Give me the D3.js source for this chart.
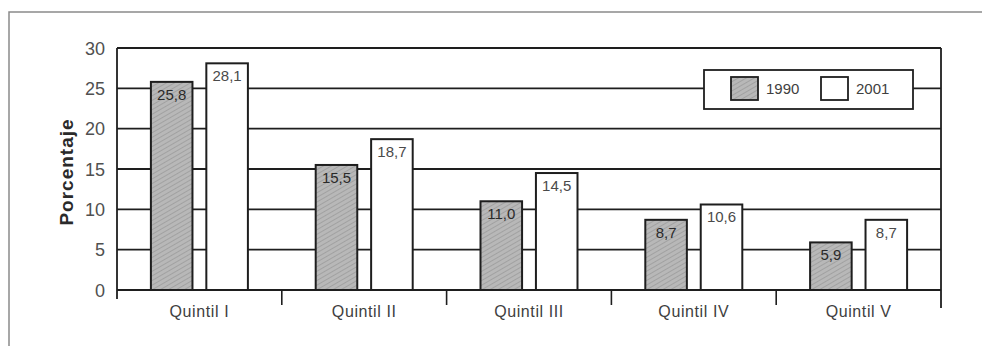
<!DOCTYPE html>
<html>
<head>
<meta charset="utf-8">
<script src="https://cdn.jsdelivr.net/npm/d3@7/dist/d3.min.js"></script>
<style>
  html, body { margin: 0; padding: 0; background: #fff; }
  svg { display: block; font-family: "Liberation Sans", Arial, sans-serif; }
</style>
</head>
<body>
<svg id="chart" width="983" height="346"></svg>
<script>
// Income share by quintile, 1990 vs 2001
const categories = ["Quintil I", "Quintil II", "Quintil III", "Quintil IV", "Quintil V"];
const seriesNames = ["1990", "2001"];
const values1990 = [25.8, 15.5, 11.0, 8.7, 5.9];
const values2001 = [28.1, 18.7, 14.5, 10.6, 8.7];
const yTicks = [0, 5, 10, 15, 20, 25, 30];
const yTitle = "Porcentaje";

const rows = categories.map((c, i) => ({
  cat: c,
  vals: [
    { key: seriesNames[0], v: values1990[i] },
    { key: seriesNames[1], v: values2001[i] }
  ]
}));

const svg = d3.select("#chart");
const plotLeft = 117, plotRight = 941, plotTop = 48, plotBottom = 290;
const ink = "#1e1e1e";

// pattern for the hatched 1990 bars
const defs = svg.append("defs");
const pat = defs.append("pattern")
  .attr("id", "hatch").attr("patternUnits", "userSpaceOnUse")
  .attr("width", 4).attr("height", 4)
  .attr("patternTransform", "rotate(60)");
pat.append("rect").attr("width", 4).attr("height", 4).attr("fill", "#b8b8b8");
pat.append("line").attr("x1", 0).attr("y1", 0).attr("x2", 0).attr("y2", 4)
  .attr("stroke", "#949494").attr("stroke-width", 1.3);

// outer figure frame (top and left edges)
svg.append("path")
  .attr("d", "M9,346 V12 H982")
  .attr("fill", "none").attr("stroke", "#8a8a8a").attr("stroke-width", 1.5);

const y = d3.scaleLinear().domain([0, 30]).range([plotBottom, plotTop]);
const x0 = d3.scaleBand().domain(categories).range([plotLeft, plotRight]).padding(0);
const pairW = 97;
const x1 = d3.scaleBand().domain(seriesNames)
  .range([(x0.bandwidth() - pairW) / 2, (x0.bandwidth() + pairW) / 2])
  .paddingInner(0.25);

// horizontal gridlines
svg.append("g").selectAll("line").data(yTicks.filter(t => t > 0)).join("line")
  .attr("x1", plotLeft).attr("x2", plotRight)
  .attr("y1", d => y(d)).attr("y2", d => y(d))
  .attr("stroke", ink).attr("stroke-width", 1.8);

// y axis
const yAxis = svg.append("g").attr("transform", `translate(${plotLeft},0)`)
  .call(d3.axisLeft(y).tickValues(yTicks).tickSize(0).tickPadding(12));
yAxis.select(".domain").remove();
yAxis.selectAll("text").attr("fill", "#505050").attr("font-size", 18).attr("dy", "0.35em");
svg.append("line").attr("x1", plotLeft).attr("x2", plotLeft).attr("y1", plotTop).attr("y2", plotBottom + 9)
  .attr("stroke", ink).attr("stroke-width", 1.8);
svg.append("line").attr("x1", plotRight).attr("x2", plotRight).attr("y1", plotTop).attr("y2", plotBottom + 18)
  .attr("stroke", ink).attr("stroke-width", 1.8);

// y title
svg.append("text")
  .attr("transform", `translate(73,${(plotTop + plotBottom) / 2 + 3}) rotate(-90)`)
  .attr("text-anchor", "middle")
  .attr("font-size", 19).attr("font-weight", "bold").attr("fill", "#2a2a2a")
  .attr("letter-spacing", 1)
  .text(yTitle);

// x axis with ticks between categories
const xAxis = svg.append("g").attr("transform", `translate(0,${plotBottom})`)
  .call(d3.axisBottom(x0).tickSize(0).tickPadding(16));
xAxis.select(".domain").remove();
xAxis.selectAll("text").attr("fill", "#404040").attr("font-size", 16).attr("letter-spacing", 0.6);
svg.append("line").attr("x1", plotLeft).attr("x2", plotRight).attr("y1", plotBottom).attr("y2", plotBottom)
  .attr("stroke", ink).attr("stroke-width", 1.8);
svg.append("g").selectAll("line").data(categories.slice(1)).join("line")
  .attr("x1", d => x0(d)).attr("x2", d => x0(d))
  .attr("y1", plotBottom).attr("y2", plotBottom + 15)
  .attr("stroke", ink).attr("stroke-width", 1.6);

// bars
const groups = svg.append("g").selectAll("g").data(rows).join("g")
  .attr("transform", d => `translate(${x0(d.cat)},0)`);
groups.selectAll("rect").data(d => d.vals).join("rect")
  .attr("x", d => x1(d.key))
  .attr("y", d => y(d.v))
  .attr("width", x1.bandwidth())
  .attr("height", d => y(0) - y(d.v))
  .attr("fill", d => d.key === "1990" ? "url(#hatch)" : "#fff")
  .attr("stroke", ink).attr("stroke-width", 2);
groups.selectAll("text").data(d => d.vals).join("text")
  .attr("x", d => x1(d.key) + x1.bandwidth() / 2)
  .attr("y", d => y(d.v) + 18)
  .attr("text-anchor", "middle")
  .attr("font-size", 15)
  .attr("fill", d => d.key === "1990" ? "#2a2a2a" : "#4a4a4a")
  .text(d => d3.format(".1f")(d.v).replace(".", ","));

// legend
const lg = svg.append("g");
lg.append("rect").attr("x", 704).attr("y", 70).attr("width", 209).attr("height", 39)
  .attr("fill", "#fff").attr("stroke", ink).attr("stroke-width", 1.8);
const items = lg.selectAll("g").data(seriesNames).join("g")
  .attr("transform", (d, i) => `translate(${731 + i * 90},77)`);
items.append("rect").attr("width", 27).attr("height", 23)
  .attr("fill", d => d === "1990" ? "url(#hatch)" : "#fff")
  .attr("stroke", ink).attr("stroke-width", 1.8);
items.append("text").attr("x", 35).attr("y", 17)
  .attr("font-size", 15).attr("fill", "#404040").text(d => d);
</script>
</body>
</html>
